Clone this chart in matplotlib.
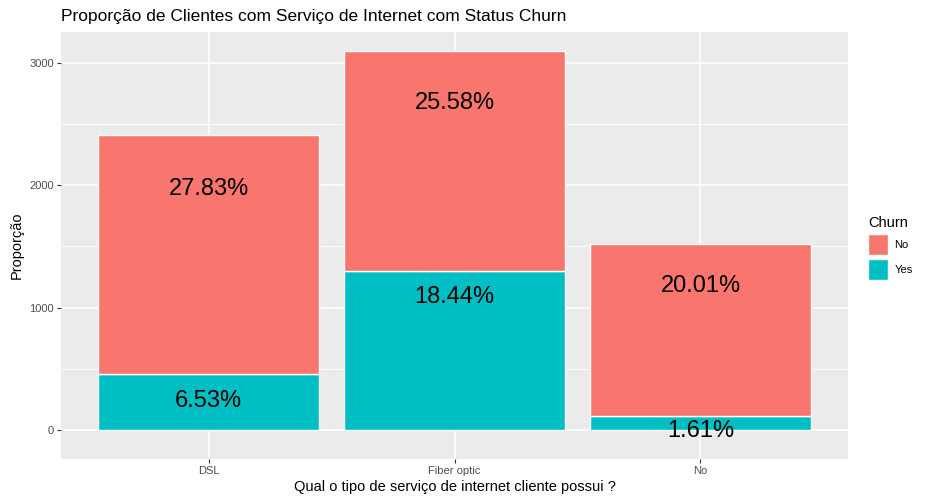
import matplotlib.pyplot as plt
from matplotlib.patches import Patch
import numpy as np

# data (Telco churn, counts per internet service type)
categories = ["DSL", "Fiber optic", "No"]
churn_no = [1957, 1799, 1407]
churn_yes = [459, 1297, 113]
pct_no = ["27.83%", "25.58%", "20.01%"]
pct_yes = ["6.53%", "18.44%", "1.61%"]

col_no = "#F8766D"
col_yes = "#00BFC4"

plt.rcParams["font.family"] = ["Liberation Sans", "DejaVu Sans"]

fig = plt.figure(figsize=(9.34, 5.04), dpi=100)
ax = fig.add_axes([61/934, 45/504, 787/934, 427/504])
ax.set_facecolor("#EBEBEB")

x = np.arange(1, len(categories) + 1)
yes = np.array(churn_yes)
no = np.array(churn_no)

ax.bar(x, yes, width=0.9, color=col_yes, edgecolor="white", linewidth=1.0, zorder=3)
ax.bar(x, no, width=0.9, bottom=yes, color=col_no, edgecolor="white", linewidth=1.0, zorder=3)

# labels sit a little below the top of each segment (offsets in px)
off_no = [54, 52, 42]
off_yes = [27, 26, 15]
for i in range(len(x)):
    ax.annotate(pct_no[i], (x[i], yes[i] + no[i]), xytext=(0, -off_no[i] * 0.72),
                textcoords="offset points", ha="center", va="center",
                fontsize=17, color="black", zorder=4)
    ax.annotate(pct_yes[i], (x[i], yes[i]), xytext=(0, -off_yes[i] * 0.72),
                textcoords="offset points", ha="center", va="center",
                fontsize=17, color="black", zorder=4)

# ggplot expands the range to also cover the lowest label
ax.set_xlim(0.4, 3.6)
ax.set_ylim(-239, 3255)
ax.set_xticks(x)
ax.set_xticklabels(categories)
ax.set_yticks([0, 1000, 2000, 3000])
ax.set_yticks([500, 1500, 2500], minor=True)

ax.grid(True, which="major", color="white", linewidth=1.1, zorder=0)
ax.grid(True, which="minor", axis="y", color="white", linewidth=0.55, zorder=0)
ax.set_axisbelow(True)
for s in ax.spines.values():
    s.set_visible(False)
ax.tick_params(axis="both", which="major", length=3, width=0.8, color="#333333",
               labelcolor="#4D4D4D", labelsize=8, pad=2)
ax.tick_params(axis="both", which="minor", length=0)

ax.set_xlabel("Qual o tipo de serviço de internet cliente possui ?", fontsize=10.5, labelpad=3)
ax.set_ylabel("Proporção", fontsize=10.5, labelpad=4)
ax.set_title("Proporção de Clientes com Serviço de Internet com Status Churn",
             loc="left", fontsize=12.5, pad=8)

handles = [Patch(facecolor=col_no, edgecolor="white", label="No"),
           Patch(facecolor=col_yes, edgecolor="white", label="Yes")]
leg = fig.legend(handles=handles, title="Churn", loc="upper left",
                 bbox_to_anchor=(864/934, 1 - 212/504), frameon=False,
                 fontsize=8, title_fontsize=10.5, handlelength=1.75, handleheight=2.5,
                 handletextpad=0.6, labelspacing=0.35, borderaxespad=0)
leg._legend_box.align = "left"

fig.savefig("out.png", dpi=100)
